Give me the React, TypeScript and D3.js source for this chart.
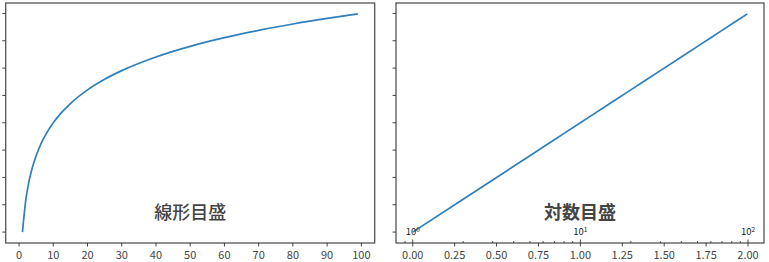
import React from "react";
import * as d3 from "d3";

// data: x values and their base-10 logarithm
const xValues = [1, 2, 3, 4, 5, 6, 7, 8, 10, 12, 15, 20, 25, 30, 40, 50, 60, 70, 80, 90, 99];
const yValues = [0, 0.301, 0.477, 0.602, 0.699, 0.778, 0.845, 0.903, 1.0, 1.079, 1.176, 1.301, 1.398, 1.477, 1.602, 1.699, 1.778, 1.845, 1.903, 1.954, 1.996];
const leftTicks = [0, 10, 20, 30, 40, 50, 60, 70, 80, 90, 100];
const rightTicks = [0, 0.25, 0.5, 0.75, 1.0, 1.25, 1.5, 1.75, 2.0];
const yTicks = [0, 0.25, 0.5, 0.75, 1.0, 1.25, 1.5, 1.75, 2.0];
const logMajor = [1, 10, 100];
const logExponents = ["0", "1", "2"];
const logMinor = [0.9, 2, 3, 4, 5, 6, 7, 8, 9, 20, 30, 40, 50, 60, 70, 80, 90];
const titles = ["線形目盛", "対数目盛"];

const W = 769, H = 262;
const top = 3, bottom = 243;
const lineColor = "#2d7fbd";
const spineColor = "#555";
const textColor = "#444";
const font = "'Noto Sans CJK JP', 'Noto Sans', sans-serif";

const y = d3.scaleLinear().domain([-0.0998, 2.0954]).range([bottom, top]);

function Frame({ x0, x1 }: { x0: number; x1: number }) {
  return (
    <rect x={x0} y={top} width={x1 - x0} height={bottom - top} fill="none" stroke={spineColor} strokeWidth={1.3} />
  );
}

function YTicks({ x0 }: { x0: number }) {
  return (
    <g>
      {yTicks.map((t) => (
        <line key={t} x1={x0 - 3.5} x2={x0} y1={y(t)} y2={y(t)} stroke="#333" strokeWidth={0.9} />
      ))}
    </g>
  );
}

export default function App() {
  // left panel
  const lx0 = 5.7, lx1 = 374.7;
  const xl = d3.scaleLinear().domain([-3.9, 103.9]).range([lx0, lx1]);
  // right panel
  const rx0 = 396, rx1 = 764;
  const xr = d3.scaleLinear().domain([-0.0998, 2.0954]).range([rx0, rx1]);
  const xlog = d3.scaleLog().domain([Math.pow(10, -0.0998), Math.pow(10, 2.0954)]).range([rx0, rx1]);

  const lineL = d3.line<number>().x((_, i) => xl(xValues[i])).y((d) => y(d)).curve(d3.curveMonotoneX);
  const lineR = d3.line<number>().x((d) => xr(d)).y((d) => y(d));

  const fmt = d3.format(".2f");

  return (
    <svg width={W} height={H} style={{ position: "absolute", left: 0, top: 0 }}>
      <rect width={W} height={H} fill="#fff" />
      {/* left */}
      <path d={lineL(yValues) || ""} fill="none" stroke={lineColor} strokeWidth={1.7} />
      <Frame x0={lx0} x1={lx1} />
      <YTicks x0={lx0} />
      {leftTicks.map((t) => (
        <g key={t} transform={`translate(${xl(t)},${bottom})`}>
          <line y1={0} y2={3.5} stroke="#333" strokeWidth={0.9} />
          <text y={15.5} textAnchor="middle" fontSize={11} fontFamily={font} fill={textColor}>{t}</text>
        </g>
      ))}
      <text x={(lx0 + lx1) / 2} y={218.5} textAnchor="middle" fontSize={18} fontWeight={500} fontFamily={font} fill={textColor}>{titles[0]}</text>

      {/* right */}
      <path d={lineR(yValues) || ""} fill="none" stroke={lineColor} strokeWidth={1.7} />
      <Frame x0={rx0} x1={rx1} />
      <YTicks x0={rx0} />
      {rightTicks.map((t) => (
        <g key={t} transform={`translate(${xr(t)},${bottom})`}>
          <line y1={0} y2={3.5} stroke="#333" strokeWidth={0.9} />
          <text y={15.5} textAnchor="middle" fontSize={11} fontFamily={font} fill={textColor}>{fmt(t)}</text>
        </g>
      ))}
      {logMinor.map((t) => (
        <line key={"m" + t} x1={xlog(t)} x2={xlog(t)} y1={bottom - 2} y2={bottom} stroke="#333" strokeWidth={0.8} />
      ))}
      {logMajor.map((t, i) => (
        <g key={"M" + t} transform={`translate(${xlog(t)},${bottom})`}>
          <line y1={-3.5} y2={0} stroke="#333" strokeWidth={0.9} />
          <text y={-8} textAnchor="middle" fontSize={9.5} fontFamily={font} fill="#222">
            10<tspan fontSize={6.5} dy={-3.5}>{logExponents[i]}</tspan>
          </text>
        </g>
      ))}
      <text x={(rx0 + rx1) / 2} y={218.5} textAnchor="middle" fontSize={18} fontWeight={700} fontFamily={font} fill={textColor}>{titles[1]}</text>
    </svg>
  );
}
